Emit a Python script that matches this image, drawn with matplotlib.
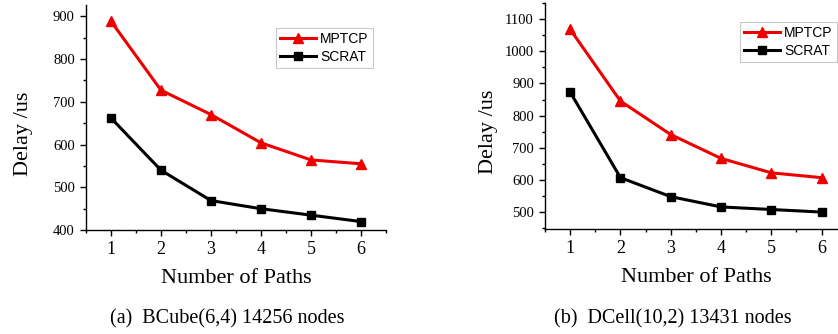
import matplotlib
matplotlib.use("Agg")
import matplotlib.pyplot as plt
from matplotlib.ticker import MultipleLocator

paths = [1, 2, 3, 4, 5, 6]
bcube_mptcp = [888, 727, 670, 604, 564, 555]
bcube_scrat = [662, 540, 469, 450, 435, 420]
dcell_mptcp = [1068, 845, 741, 667, 622, 607]
dcell_scrat = [873, 607, 548, 516, 508, 500]
captions = ["(a)  BCube(6,4) 14256 nodes", "(b)  DCell(10,2) 13431 nodes"]

serif = "Liberation Serif"
sans = "Liberation Sans"

fig = plt.figure(figsize=(8.38, 3.34), dpi=100)

def panel(rect, mptcp, scrat, ylim, ymajor, caption, cap_x, legend_anchor, ylcoords):
    ax = fig.add_axes(rect)
    ax.plot(paths, mptcp, color="#ee0000", lw=2.2, marker="^", ms=7, label="MPTCP")
    ax.plot(paths, scrat, color="black", lw=2.2, marker="s", ms=6, label="SCRAT")
    ax.set_xlim(0.5, 6.5)
    ax.set_ylim(*ylim)
    ax.xaxis.set_major_locator(MultipleLocator(1))
    ax.xaxis.set_minor_locator(MultipleLocator(0.5))
    ax.yaxis.set_major_locator(MultipleLocator(ymajor))
    ax.yaxis.set_minor_locator(MultipleLocator(ymajor / 2))
    ax.spines["top"].set_visible(False)
    ax.spines["right"].set_visible(False)
    for s in ("left", "bottom"):
        ax.spines[s].set_linewidth(1.0)
    ax.tick_params(which="major", direction="out", length=4, width=1)
    ax.tick_params(which="minor", direction="out", length=2.5, width=1)
    ax.tick_params(axis="x", labelsize=13, pad=4)
    ax.tick_params(axis="y", labelsize=10.5, pad=4)
    for lab in ax.get_xticklabels() + ax.get_yticklabels():
        lab.set_fontfamily(serif)
    ax.set_xlabel("Number of Paths", fontsize=16, family=serif, labelpad=8)
    ax.set_ylabel("Delay /us", fontsize=16, family=serif)
    ax.yaxis.set_label_coords(*ylcoords)
    leg = ax.legend(loc="upper left", bbox_to_anchor=legend_anchor,
                    prop={"family": sans, "size": 10}, frameon=True,
                    fancybox=False, edgecolor="#bbbbbb", handlelength=2.6,
                    handletextpad=0.3, borderpad=0.3, labelspacing=0.3,
                    borderaxespad=0)
    leg.get_frame().set_linewidth(0.8)
    fig.text(cap_x, 0.045, caption, fontsize=14.5, family=serif, ha="center", va="center")
    return ax

panel([0.1026, 0.311, 0.358, 0.674], bcube_mptcp, bcube_scrat, (400, 926), 100,
      captions[0], 0.271, (0.633, 0.898), (-0.177, 0.427))
panel([0.6504, 0.314, 0.360, 0.677], dcell_mptcp, dcell_scrat, (447, 1150), 100,
      captions[1], 0.803, (0.646, 0.916), (-0.156, 0.43))

fig.savefig("out.png", dpi=100)
